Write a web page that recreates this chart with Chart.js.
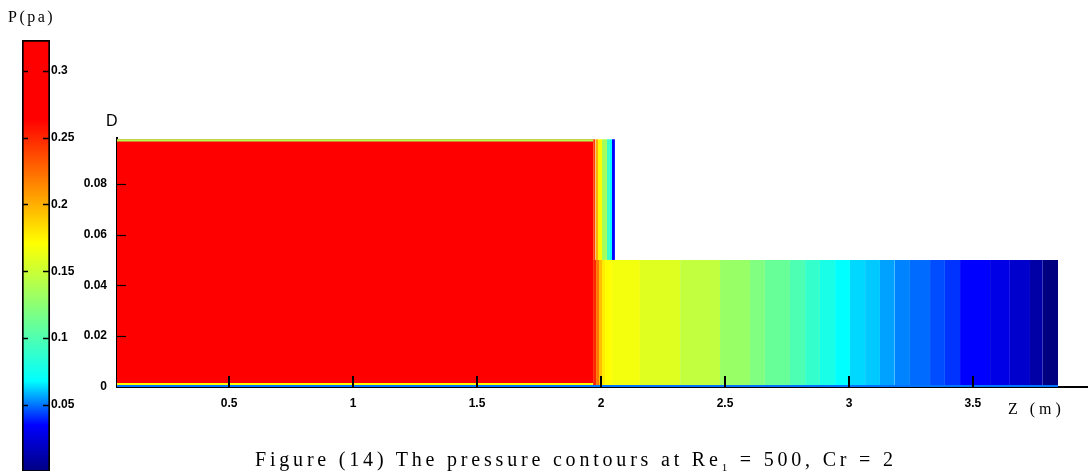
<!DOCTYPE html>
<html>
<head>
<meta charset="utf-8">
<script src="https://cdn.jsdelivr.net/npm/chart.js@4.4.0/dist/chart.umd.min.js"></script>
<style>
html, body { margin: 0; padding: 0; background: #fff; overflow: hidden; width: 1088px; height: 471px; }
#wrap { position: relative; width: 1088px; height: 471px; }
canvas { position: absolute; left: 0; top: 0; }
.lbl { position: absolute; white-space: nowrap; color: #000; }
.serif { font-family: 'Liberation Serif', 'DejaVu Serif', serif; }
</style>
</head>
<body>
<div id="wrap">
  <canvas id="field" width="1088" height="471"></canvas>
  <canvas id="cbar" width="100" height="480"></canvas>
  <div class="lbl serif" style="left:8px; top:8px; font-size:16px; letter-spacing:2.5px;">P(pa)</div>
  <div class="lbl" style="left:106px; top:112px; font-family:'Liberation Sans', Arial, sans-serif; font-size:16px;">D</div>
  <div class="lbl serif" style="left:1008px; top:400px; font-size:16px; letter-spacing:4px;">Z (m)</div>
  <div class="lbl serif" style="left:255px; top:448px; font-size:20px; letter-spacing:3.8px;">Figure (14) The pressure contours at Re<sub style="font-size:11px">1</sub> = 500, Cr = 2</div>
</div>
<script>
// Оси
const zMin = 0.048, zMax = 3.964;
const yMax = 0.098;
const xTicks = [0.5, 1, 1.5, 2, 2.5, 3, 3.5];
const yTicks = [0, 0.02, 0.04, 0.06, 0.08];

// Широкая часть канала (почти вся красная)
const wideZ = [0.048, 1.968];
const wideH = 0.0975;
const wideP = 0.33;
const stepH = 0.05; // высота узкой части

// Нижняя зона (0 .. 0.05): границы полос по Z и давление в каждой полосе
const lowerZ = [1.968, 1.980, 1.992, 2.004, 2.016, 2.044, 2.157, 2.319, 2.480, 2.601, 2.661, 2.762, 2.823, 2.883,
                2.944, 3.004, 3.065, 3.125, 3.185, 3.246, 3.327, 3.387, 3.448, 3.569, 3.649, 3.730, 3.782, 3.843];
const lowerP = [0.25, 0.22, 0.195, 0.178, 0.171, 0.166, 0.158, 0.146, 0.130, 0.120, 0.110, 0.099, 0.089, 0.078,
                0.068, 0.063, 0.061, 0.056, 0.052, 0.049, 0.045, 0.0416, 0.035, 0.028, 0.021, 0.0105, 0.0];

// Верхняя зона у ступеньки (0.05 .. 0.0975)
const upperZ = [1.968, 1.978, 1.988, 2.004, 2.024, 2.036, 2.044, 2.056];
const upperP = [0.24, 0.2, 0.172, 0.135, 0.09, 0.068, 0.035];

// Тонкие пограничные слои у стенок: [z0, z1, y0, y1, p]
const wallTop = [0.048, 1.968, 0.0966, 0.0975, 0.14];
const wallBottomA = [0.048, 3.843, 0, 0.0008, 0.05];
const wallBottomB = [0.048, 1.968, 0.0008, 0.0016, 0.17];

// Цветовая шкала
const barMax = 0.323;
const barTicks = [0.05, 0.1, 0.15, 0.2, 0.25, 0.3];
const cmapP = [0, 0.035, 0.068, 0.12, 0.171, 0.264, 0.33];
const cmapRGB = [[0, 0, 128], [0, 0, 255], [0, 255, 255], [128, 255, 128], [255, 255, 0], [255, 0, 0], [255, 0, 0]];

const tickFont = { family: "'Liberation Sans Narrow', 'Liberation Sans', sans-serif", size: 12, weight: 'bold' };

function rgb(c) { return `rgb(${Math.round(c[0])},${Math.round(c[1])},${Math.round(c[2])})`; }

function colorOf(p) {
    if (p <= cmapP[0]) return rgb(cmapRGB[0]);
    for (let i = 1; i < cmapP.length; i++) {
        if (p <= cmapP[i]) {
            const t = (p - cmapP[i - 1]) / (cmapP[i] - cmapP[i - 1]);
            const a = cmapRGB[i - 1], b = cmapRGB[i];
            return rgb([a[0] + (b[0] - a[0]) * t, a[1] + (b[1] - a[1]) * t, a[2] + (b[2] - a[2]) * t]);
        }
    }
    return rgb(cmapRGB[cmapRGB.length - 1]);
}

// Прямоугольная полоса как линия с заливкой вниз до y0
function band(z0, z1, y0, y1, p, order) {
    const col = colorOf(p);
    return {
        data: [{ x: z0, y: y1 }, { x: z1, y: y1 }],
        fill: { value: y0 },
        backgroundColor: col,
        borderColor: col,
        borderWidth: 0,
        pointRadius: 0,
        order: order
    };
}

const datasets = [];
datasets.push(band(wideZ[0], wideZ[1], 0, wideH, wideP, 2));
for (let i = 0; i < lowerP.length; i++) datasets.push(band(lowerZ[i], lowerZ[i + 1], 0, stepH, lowerP[i], 2));
for (let i = 0; i < upperP.length; i++) datasets.push(band(upperZ[i], upperZ[i + 1], stepH, wideH, upperP[i], 2));
[wallTop, wallBottomA, wallBottomB].forEach(s => datasets.push(band(s[0], s[1], s[2], s[3], s[4], 0)));

// Засечки внутрь области
const fieldTicks = {
    id: 'fieldTicks',
    afterDraw(chart) {
        const ctx = chart.ctx, a = chart.chartArea;
        ctx.save();
        ctx.strokeStyle = '#000';
        ctx.lineWidth = 2;
        xTicks.forEach(v => {
            const px = Math.round(chart.scales.x.getPixelForValue(v));
            ctx.beginPath(); ctx.moveTo(px, a.bottom); ctx.lineTo(px, a.bottom - 11); ctx.stroke();
        });
        ctx.lineWidth = 1.2;
        yTicks.slice(1).forEach(v => {
            const py = Math.round(chart.scales.y.getPixelForValue(v)) + 0.5;
            ctx.beginPath(); ctx.moveTo(a.left, py); ctx.lineTo(a.left + 9, py); ctx.stroke();
        });
        ctx.restore();
    }
};

new Chart(document.getElementById('field'), {
    type: 'line',
    data: { datasets: datasets },
    options: {
        responsive: false,
        animation: false,
        layout: { padding: { top: 138, right: 0, left: 0, bottom: 0 } },
        scales: {
            x: {
                type: 'linear', min: zMin, max: zMax,
                afterFit: s => { s.height = 84; },
                afterBuildTicks: s => { s.ticks = xTicks.map(v => ({ value: v })); },
                grid: { display: false, drawTicks: false },
                border: { display: true, color: '#000', width: 2 },
                ticks: { color: '#000', font: tickFont, padding: 9, maxRotation: 0, callback: v => String(v) }
            },
            y: {
                type: 'linear', min: 0, max: yMax,
                afterFit: s => { s.width = 117; },
                afterBuildTicks: s => { s.ticks = yTicks.map(v => ({ value: v })); },
                grid: { display: false, drawTicks: false },
                border: { display: true, color: '#000', width: 2 },
                ticks: { color: '#000', font: tickFont, padding: 10, callback: v => String(+v.toFixed(2)) }
            }
        },
        plugins: { legend: { display: false }, tooltip: { enabled: false } }
    },
    plugins: [fieldTicks]
});

// Цветовая шкала слева
const barTickMarks = {
    id: 'barTickMarks',
    afterDraw(chart) {
        const ctx = chart.ctx, a = chart.chartArea;
        ctx.save();
        ctx.strokeStyle = '#000';
        ctx.lineWidth = 1.5;
        barTicks.forEach(v => {
            const py = Math.round(chart.scales.y.getPixelForValue(v)) + 0.5;
            ctx.beginPath(); ctx.moveTo(a.left, py); ctx.lineTo(a.left + 6, py); ctx.stroke();
            ctx.beginPath(); ctx.moveTo(a.right - 7, py); ctx.lineTo(a.right, py); ctx.stroke();
        });
        ctx.restore();
    }
};

new Chart(document.getElementById('cbar'), {
    type: 'bar',
    data: {
        labels: ['P'],
        datasets: [{
            data: [[0, barMax]],
            backgroundColor: c => {
                const area = c.chart.chartArea;
                if (!area) return '#f00';
                const g = c.chart.ctx.createLinearGradient(0, area.bottom, 0, area.top);
                cmapP.forEach((p, i) => { if (p <= barMax) g.addColorStop(p / barMax, rgb(cmapRGB[i])); });
                g.addColorStop(1, rgb(cmapRGB[cmapRGB.length - 1]));
                return g;
            },
            borderColor: '#000',
            borderWidth: 2,
            borderSkipped: false,
            barPercentage: 1,
            categoryPercentage: 1
        }]
    },
    options: {
        responsive: false,
        animation: false,
        layout: { padding: { left: 22, top: 40, bottom: 4.6, right: 0 } },
        scales: {
            x: { display: false },
            y: {
                position: 'right', min: 0, max: barMax,
                afterFit: s => { s.width = 50; },
                afterBuildTicks: s => { s.ticks = barTicks.map(v => ({ value: v })); },
                grid: { display: false, drawTicks: false },
                border: { display: false },
                ticks: { color: '#000', font: tickFont, padding: 1, callback: v => String(+v.toFixed(2)) }
            }
        },
        plugins: { legend: { display: false }, tooltip: { enabled: false } }
    },
    plugins: [barTickMarks]
});
</script>
</body>
</html>
